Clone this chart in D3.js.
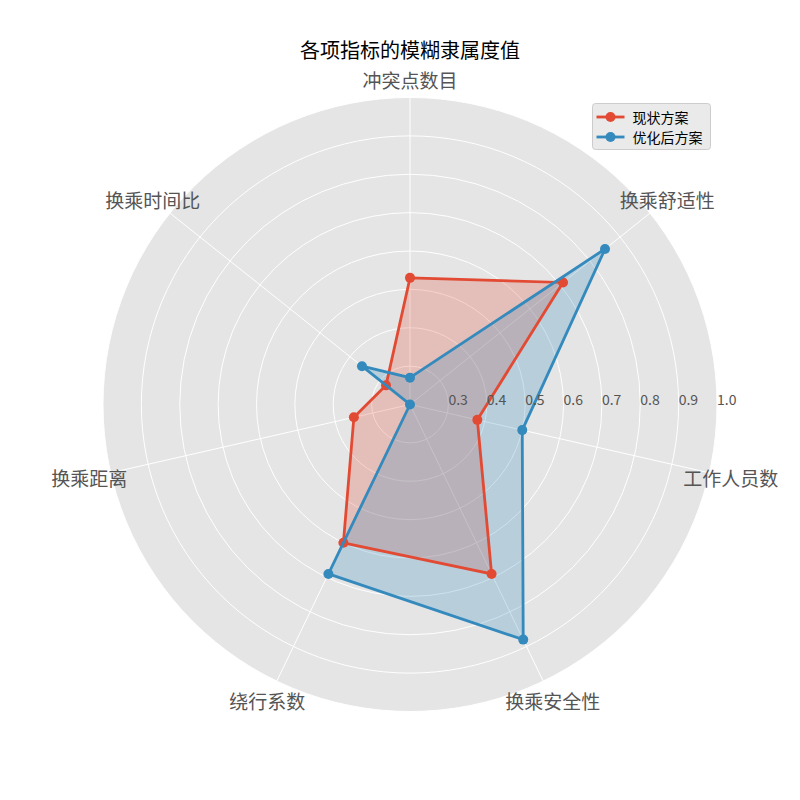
<!DOCTYPE html>
<html><head><meta charset="utf-8">
<script src="https://cdn.jsdelivr.net/npm/d3@7"></script>
<style>body{margin:0;background:#fff}svg{display:block}</style>
</head><body>
<script>
const categories = ['冲突点数目','换乘舒适性','工作人员数','换乘安全性','绕行系数','换乘距离','换乘时间比'];
const seriesNames = ['现状方案','优化后方案'];
const currentValues = [0.53, 0.71, 0.38, 0.69, 0.60, 0.35, 0.28];
const optimizedValues = [0.27, 0.85, 0.50, 0.88, 0.69, 0.20, 0.36];
const radialTicks = [0.3, 0.4, 0.5, 0.6, 0.7, 0.8, 0.9, 1.0];
const titleText = '各项指标的模糊隶属度值';

const W = 800, H = 800, cx = 410, cy = 404.5, R = 307;
const font = '"Noto Sans CJK SC", "DejaVu Sans", sans-serif';
const colors = ['#E24A33', '#348ABD'];

const svg = d3.select('body').append('svg').attr('width', W).attr('height', H);
const g = svg.append('g').attr('transform', `translate(${cx},${cy})`);

const r = d3.scaleLinear().domain([0.2, 1.0]).range([0, R]);
const angle = d3.scaleLinear().domain([0, categories.length]).range([0, 2 * Math.PI]);

// background disc
g.append('circle').attr('r', R).attr('fill', '#E5E5E5');

// grid circles
g.selectAll('.grid').data(radialTicks).join('circle')
  .attr('r', d => r(d)).attr('fill', 'none').attr('stroke', '#fff').attr('stroke-width', 1);

// spokes
g.selectAll('.spoke').data(categories).join('line')
  .attr('x1', 0).attr('y1', 0)
  .attr('x2', (d, i) => R * Math.sin(angle(i)))
  .attr('y2', (d, i) => -R * Math.cos(angle(i)))
  .attr('stroke', '#fff').attr('stroke-width', 1);

// series
const lineGen = d3.lineRadial().angle((d, i) => angle(i)).radius(d => r(d)).curve(d3.curveLinearClosed);
const seriesData = [currentValues, optimizedValues];
seriesData.forEach((vals, s) => {
  g.append('path').attr('d', lineGen(vals))
    .attr('fill', colors[s]).attr('fill-opacity', 0.25).attr('stroke', 'none');
});
seriesData.forEach((vals, s) => {
  g.append('path').attr('d', lineGen(vals))
    .attr('fill', 'none').attr('stroke', colors[s]).attr('stroke-width', 2.8)
    .attr('stroke-linejoin', 'miter');
  g.selectAll(null).data(vals).join('circle')
    .attr('cx', (d, i) => r(d) * Math.sin(angle(i)))
    .attr('cy', (d, i) => -r(d) * Math.cos(angle(i)))
    .attr('r', 5).attr('fill', colors[s]);
});

// radial tick labels
g.selectAll('.rt').data(radialTicks).join('text')
  .attr('x', d => r(d)).attr('y', -6)
  .attr('text-anchor', 'start').attr('dominant-baseline', 'central')
  .attr('font-family', font).attr('font-size', 14).attr('fill', '#555')
  .text(d => d.toFixed(1));

// category labels
const LR = 329;
g.selectAll('.cat').data(categories).join('text')
  .attr('x', (d, i) => LR * Math.sin(angle(i)))
  .attr('y', (d, i) => -LR * Math.cos(angle(i)) + (i === 0 ? 3.5 : 0))
  .attr('text-anchor', 'middle').attr('dominant-baseline', 'central')
  .attr('font-family', font).attr('font-size', 19).attr('fill', '#555')
  .text(d => d);

// title
svg.append('text').attr('x', cx).attr('y', 49.5)
  .attr('text-anchor', 'middle').attr('dominant-baseline', 'central')
  .attr('font-family', font).attr('font-size', 20).attr('fill', '#000')
  .text(titleText);

// legend
const lg = svg.append('g').attr('transform', 'translate(592.5,103.5)');
lg.append('rect').attr('width', 118).attr('height', 46).attr('rx', 3)
  .attr('fill', '#E5E5E5').attr('fill-opacity', 0.8).attr('stroke', '#ccc').attr('stroke-width', 1);
seriesNames.forEach((name, s) => {
  const y = 13.5 + s * 20;
  lg.append('line').attr('x1', 4).attr('x2', 32).attr('y1', y).attr('y2', y)
    .attr('stroke', colors[s]).attr('stroke-width', 2.8);
  lg.append('circle').attr('cx', 18).attr('cy', y).attr('r', 5).attr('fill', colors[s]);
  lg.append('text').attr('x', 40).attr('y', y).attr('dominant-baseline', 'central')
    .attr('font-family', font).attr('font-size', 14).attr('fill', '#000').text(name);
});
</script>
</body></html>
